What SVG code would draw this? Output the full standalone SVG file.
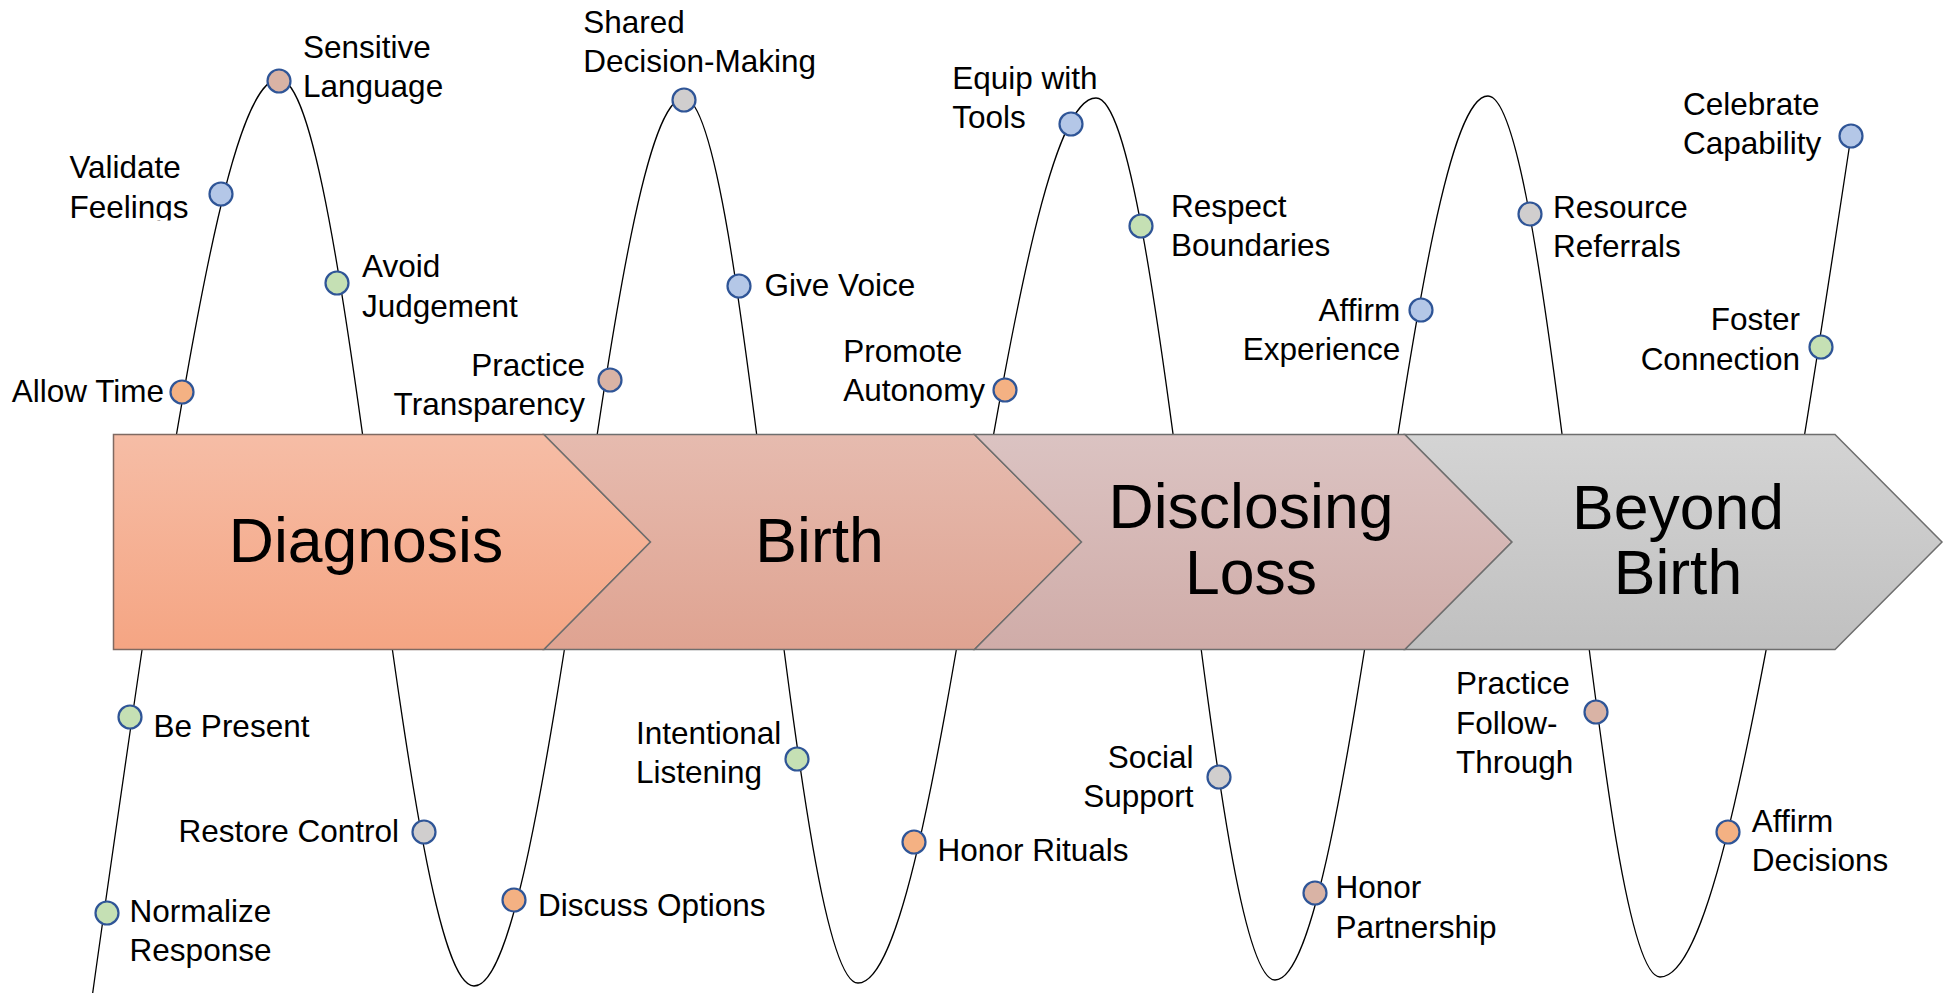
<svg xmlns="http://www.w3.org/2000/svg" width="1954" height="993" viewBox="0 0 1954 993">
<defs>
<linearGradient id="gDiag" x1="0" y1="0" x2="0" y2="1"><stop offset="0" stop-color="#F6BDA6"/><stop offset="1" stop-color="#F5A583"/></linearGradient>
<linearGradient id="gBirth" x1="0" y1="0" x2="0" y2="1"><stop offset="0" stop-color="#E6BBAF"/><stop offset="1" stop-color="#DFA391"/></linearGradient>
<linearGradient id="gDisc" x1="0" y1="0" x2="0" y2="1"><stop offset="0" stop-color="#DBC3C2"/><stop offset="1" stop-color="#D0ACA8"/></linearGradient>
<linearGradient id="gBey" x1="0" y1="0" x2="0" y2="1"><stop offset="0" stop-color="#D4D4D4"/><stop offset="1" stop-color="#C0C0C0"/></linearGradient>
<clipPath id="clipFeel"><rect x="0" y="150" width="260" height="70.5"/></clipPath>
<style>
.lbl{font-family:"Liberation Sans",Arial,sans-serif;font-size:31.5px;fill:#000}
.end{text-anchor:end}
.stage{font-family:"Liberation Sans",Arial,sans-serif;font-size:62.5px;fill:#000;text-anchor:middle}
.chev{stroke:#6E6E6E;stroke-width:1.5}
.dot{stroke:#2F5597;stroke-width:2.2}
.or{fill:#F4B183}.bl{fill:#B4C7E7}.gr{fill:#C5E0B4}.ro{fill:#D9B3A5}.gy{fill:#D0CECE}
.wave{fill:none;stroke:#000;stroke-width:1.3}
</style>
</defs>
<rect width="1954" height="993" fill="#fff"/>
<g id="connectors">
<path class="wave" d="M 92 998 C 100 940, 148 604, 160 532 C 198.8 300, 235.9 79, 279 79 C 314.1 79, 344.4 300.1, 376 532 C 408 764.4, 438.5 986, 474 986 C 512.7 986, 546.1 769.8, 581 543 C 614.6 315.2, 646.7 98, 684 98 C 715.1 98, 742 313.7, 770 540 C 798.7 766.8, 826.1 983, 858 983 C 900.4 983, 936.9 766.8, 975 540 C 1014.4 313.7, 1052.2 98, 1096 98 C 1128.9 98, 1157.3 313.2, 1187 539 C 1215.7 764.8, 1243.1 980, 1275 980 C 1313.7 980, 1347.1 764.3, 1382 538 C 1416.6 311.7, 1449.6 96, 1488 96 C 1519.5 96, 1546.6 310.7, 1575 536 C 1602.7 761.8, 1629.2 977, 1660 977 C 1706 977, 1745.6 762.8, 1787 538 C 1801 462, 1836 235, 1851 136"/>
</g>
<g id="stage-diagnosis">
<polygon class="chev" fill="url(#gDiag)" stroke="#7F6A62" style="stroke:#7F6A62" points="113.5,434.5 544,434.5 650.5,542 544,649.5 113.5,649.5"/>
<text class="stage" x="366" y="561.7">Diagnosis</text>
</g>
<g id="stage-birth">
<polygon class="chev" fill="url(#gBirth)" points="544,434.5 974.5,434.5 1081.5,542 974.5,649.5 544,649.5 650.5,542"/>
<text class="stage" x="819.6" y="561.7">Birth</text>
</g>
<g id="stage-disclosing">
<polygon class="chev" fill="url(#gDisc)" points="974.5,434.5 1405,434.5 1512,542 1405,649.5 974.5,649.5 1081.5,542"/>
<text class="stage" x="1251" y="528.3">Disclosing</text>
<text class="stage" x="1251" y="593.5">Loss</text>
</g>
<g id="stage-beyond">
<polygon class="chev" fill="url(#gBey)" points="1405,434.5 1835,434.5 1942,542 1835,649.5 1405,649.5 1512,542"/>
<text class="stage" x="1678" y="528.5">Beyond</text>
<text class="stage" x="1678" y="594">Birth</text>
</g>
<g id="n-sensitive-language"><circle class="dot ro" cx="279" cy="81" r="11.5"/><text class="lbl" x="303" y="58.3">Sensitive</text><text class="lbl" x="303" y="97.3">Language</text></g>
<g id="n-validate-feelings"><circle class="dot bl" cx="221" cy="194" r="11.5"/><text class="lbl" x="69.4" y="178.3">Validate</text><text class="lbl" x="69.4" y="218.3" clip-path="url(#clipFeel)">Feelings</text></g>
<g id="n-allow-time"><circle class="dot or" cx="182" cy="392" r="11.5"/><text class="lbl end" x="164" y="402.3">Allow Time</text></g>
<g id="n-avoid-judgement"><circle class="dot gr" cx="337" cy="283" r="11.5"/><text class="lbl" x="362" y="277.3">Avoid</text><text class="lbl" x="362" y="316.7">Judgement</text></g>
<g id="n-practice-transparency"><circle class="dot ro" cx="610" cy="380" r="11.5"/><text class="lbl end" x="585" y="375.7">Practice</text><text class="lbl end" x="585" y="415">Transparency</text></g>
<g id="n-shared-decision"><circle class="dot gy" cx="684" cy="100" r="11.5"/><text class="lbl" x="583.3" y="33.3">Shared</text><text class="lbl" x="583.3" y="71.7">Decision-Making</text></g>
<g id="n-give-voice"><circle class="dot bl" cx="739" cy="286" r="11.5"/><text class="lbl" x="764.6" y="296">Give Voice</text></g>
<g id="n-promote-autonomy"><circle class="dot or" cx="1005" cy="390" r="11.5"/><text class="lbl" x="843.3" y="361.7">Promote</text><text class="lbl" x="843.3" y="401">Autonomy</text></g>
<g id="n-equip-tools"><circle class="dot bl" cx="1071" cy="124" r="11.5"/><text class="lbl" x="952.3" y="89.3">Equip with</text><text class="lbl" x="952.3" y="128.3">Tools</text></g>
<g id="n-respect-boundaries"><circle class="dot gr" cx="1141" cy="226" r="11.5"/><text class="lbl" x="1171" y="216.7">Respect</text><text class="lbl" x="1171" y="256">Boundaries</text></g>
<g id="n-affirm-experience"><circle class="dot bl" cx="1421" cy="310" r="11.5"/><text class="lbl end" x="1400.3" y="320.7">Affirm</text><text class="lbl end" x="1400.3" y="360">Experience</text></g>
<g id="n-resource-referrals"><circle class="dot gy" cx="1530" cy="214" r="11.5"/><text class="lbl" x="1553" y="218.3">Resource</text><text class="lbl" x="1553" y="257.3">Referrals</text></g>
<g id="n-foster-connection"><circle class="dot gr" cx="1821" cy="347" r="11.5"/><text class="lbl end" x="1800" y="330">Foster</text><text class="lbl end" x="1800" y="370">Connection</text></g>
<g id="n-celebrate-capability"><circle class="dot bl" cx="1851" cy="136" r="11.5"/><text class="lbl" x="1683" y="115">Celebrate</text><text class="lbl" x="1683" y="154">Capability</text></g>
<g id="n-be-present"><circle class="dot gr" cx="130" cy="717" r="11.5"/><text class="lbl" x="153.6" y="736.7">Be Present</text></g>
<g id="n-normalize-response"><circle class="dot gr" cx="107" cy="913" r="11.5"/><text class="lbl" x="129.6" y="921.7">Normalize</text><text class="lbl" x="129.6" y="961">Response</text></g>
<g id="n-restore-control"><circle class="dot gy" cx="424" cy="832" r="11.5"/><text class="lbl end" x="399" y="841.7">Restore Control</text></g>
<g id="n-discuss-options"><circle class="dot or" cx="514" cy="900" r="11.5"/><text class="lbl" x="538" y="916">Discuss Options</text></g>
<g id="n-intentional-listening"><circle class="dot gr" cx="797" cy="759" r="11.5"/><text class="lbl" x="636" y="744">Intentional</text><text class="lbl" x="636" y="783">Listening</text></g>
<g id="n-honor-rituals"><circle class="dot or" cx="914" cy="842" r="11.5"/><text class="lbl" x="937.6" y="860.7">Honor Rituals</text></g>
<g id="n-social-support"><circle class="dot gy" cx="1219" cy="777" r="11.5"/><text class="lbl end" x="1193.5" y="767.7">Social</text><text class="lbl end" x="1193.5" y="806.7">Support</text></g>
<g id="n-honor-partnership"><circle class="dot ro" cx="1315" cy="893" r="11.5"/><text class="lbl" x="1335.5" y="898.3">Honor</text><text class="lbl" x="1335.5" y="937.7">Partnership</text></g>
<g id="n-practice-follow-through"><circle class="dot ro" cx="1596" cy="712" r="11.5"/><text class="lbl" x="1456" y="694">Practice</text><text class="lbl" x="1456" y="734.3">Follow-</text><text class="lbl" x="1456" y="773.3">Through</text></g>
<g id="n-affirm-decisions"><circle class="dot or" cx="1728" cy="832" r="11.5"/><text class="lbl" x="1751.7" y="831.7">Affirm</text><text class="lbl" x="1751.7" y="871">Decisions</text></g>
</svg>
